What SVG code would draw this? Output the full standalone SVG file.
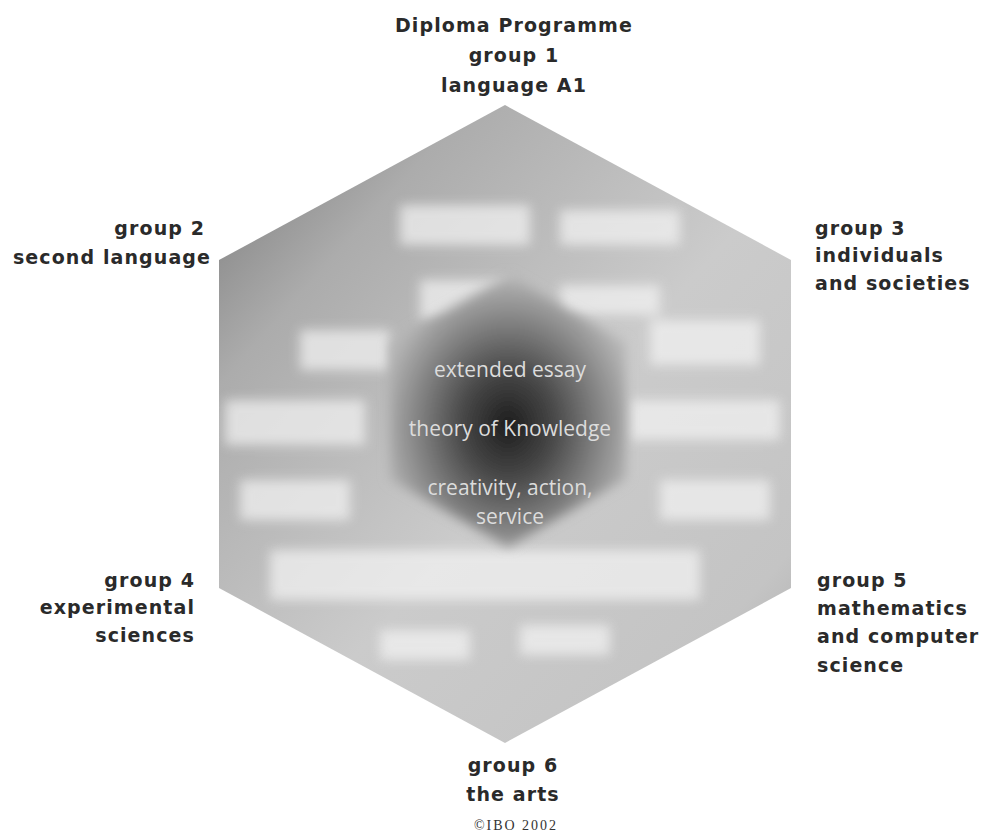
<svg xmlns="http://www.w3.org/2000/svg" width="982" height="835" viewBox="0 0 982 835">
<style>
.lbl{font-family:"DejaVu Sans","Liberation Sans",sans-serif;font-weight:bold;font-size:19px;letter-spacing:1.1px;fill:#2a2a2a}
.core{font-family:"Open Sans","Liberation Sans",sans-serif;font-size:21px;fill:#dcdcdc;text-anchor:middle}
.copy{font-family:"Liberation Serif",serif;font-size:14px;letter-spacing:2px;fill:#333;text-anchor:middle}
</style>
<defs>
<linearGradient id="outerGrad" x1="0" y1="0" x2="1" y2="1">
<stop offset="0" stop-color="#747474"/>
<stop offset="0.22" stop-color="#acacac"/>
<stop offset="0.55" stop-color="#cbcbcb"/>
<stop offset="0.85" stop-color="#c4c4c4"/>
<stop offset="1" stop-color="#a8a8a8"/>
</linearGradient>
<radialGradient id="coreGrad" cx="0.5" cy="0.55" r="0.55">
<stop offset="0" stop-color="#1c1c1c"/>
<stop offset="0.35" stop-color="#474747"/>
<stop offset="0.75" stop-color="#8c8c8c"/>
<stop offset="1" stop-color="#b6b6b6"/>
</radialGradient>
<filter id="soft" x="-20%" y="-20%" width="140%" height="140%"><feGaussianBlur stdDeviation="6"/></filter>
<clipPath id="outerClip"><polygon points="505,105 791,260 791,588 505,743 219,588 219,260"/></clipPath>
<clipPath id="coreClip"><polygon points="508,275 626,343 626,479 508,547 390,479 390,343"/></clipPath>
</defs>

<g id="hexagon">
<polygon points="505,105 791,260 791,588 505,743 219,588 219,260" fill="url(#outerGrad)"/>
<g clip-path="url(#outerClip)" fill="#f4f4f4" filter="url(#soft)" opacity="0.7">
<rect x="400" y="205" width="130" height="40"/>
<rect x="560" y="210" width="120" height="35"/>
<rect x="420" y="280" width="90" height="40"/>
<rect x="560" y="285" width="100" height="30"/>
<rect x="300" y="330" width="90" height="40"/>
<rect x="650" y="320" width="110" height="45"/>
<rect x="225" y="400" width="140" height="45"/>
<rect x="630" y="400" width="150" height="40"/>
<rect x="270" y="550" width="430" height="50"/>
<rect x="380" y="630" width="90" height="30"/>
<rect x="520" y="625" width="90" height="30"/>
<rect x="240" y="480" width="110" height="40"/>
<rect x="660" y="480" width="110" height="40"/>
</g>
</g>

<g id="core">
<polygon points="508,275 626,343 626,479 508,547 390,479 390,343" fill="url(#coreGrad)" filter="url(#soft)"/>
<g clip-path="url(#coreClip)">
<text class="core" x="510" y="377">extended essay</text>
<text class="core" x="510" y="436">theory of Knowledge</text>
<text class="core" x="510" y="495">creativity, action,</text>
<text class="core" x="510" y="524" font-size="18">service</text>
</g>
</g>

<g id="group1">
<text class="lbl" text-anchor="middle" x="514" y="32">Diploma Programme</text>
<text class="lbl" text-anchor="middle" x="514" y="62">group 1</text>
<text class="lbl" text-anchor="middle" x="514" y="92">language A1</text>
</g>
<g id="group2">
<text class="lbl" text-anchor="end" x="205" y="235">group 2</text>
<text class="lbl" text-anchor="end" x="211" y="264">second language</text>
</g>
<g id="group3">
<text class="lbl" x="815" y="235">group 3</text>
<text class="lbl" x="815" y="262">individuals</text>
<text class="lbl" x="815" y="290">and societies</text>
</g>
<g id="group4">
<text class="lbl" text-anchor="end" x="195" y="587">group 4</text>
<text class="lbl" text-anchor="end" x="195" y="614">experimental</text>
<text class="lbl" text-anchor="end" x="195" y="642">sciences</text>
</g>
<g id="group5">
<text class="lbl" x="817" y="587">group 5</text>
<text class="lbl" x="817" y="615">mathematics</text>
<text class="lbl" x="817" y="643">and computer</text>
<text class="lbl" x="817" y="672">science</text>
</g>
<g id="group6">
<text class="lbl" text-anchor="middle" x="513" y="772">group 6</text>
<text class="lbl" text-anchor="middle" x="513" y="801">the arts</text>
<text class="copy" x="516" y="830">©IBO 2002</text>
</g>
<g id="connectors"/>
</svg>
